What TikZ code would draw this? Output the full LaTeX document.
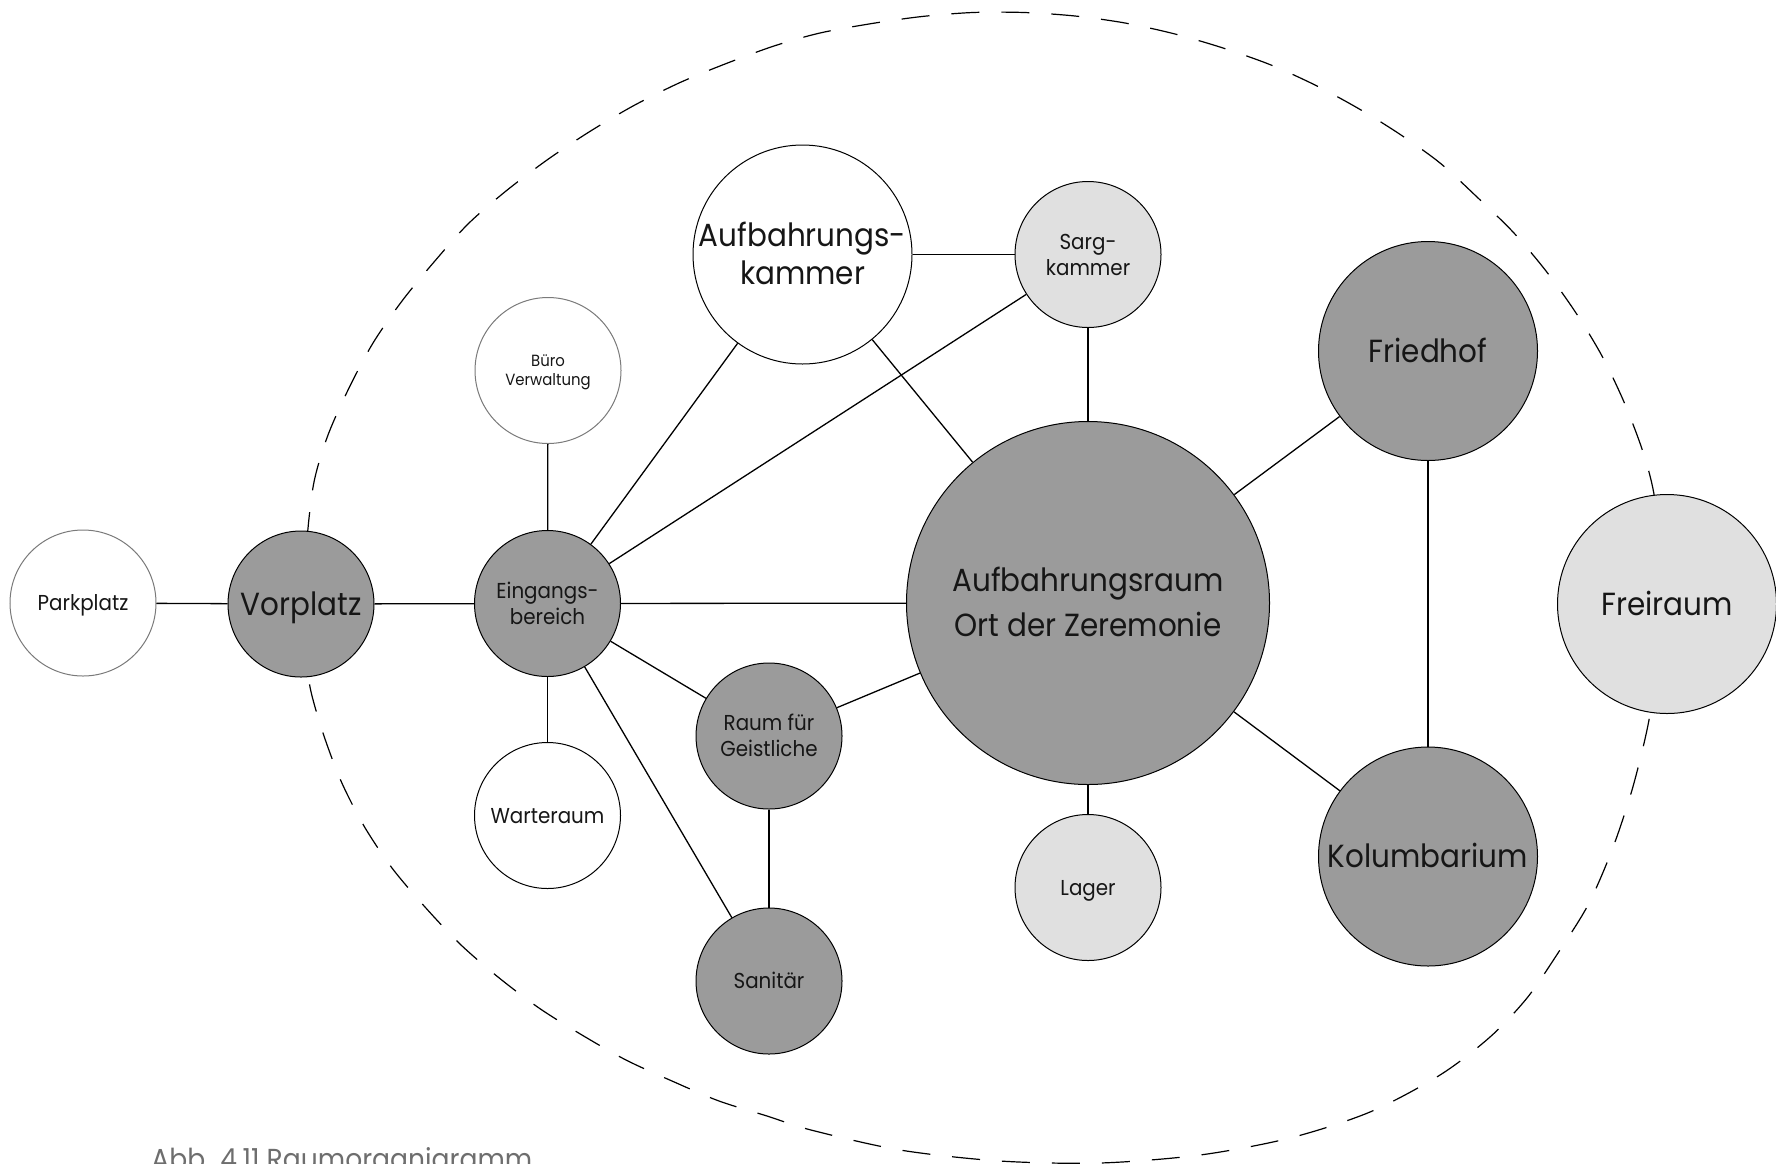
\documentclass[tikz,border=0pt]{standalone}
\usepackage{fontspec}
\setmainfont{Poppins}[FakeStretch=0.92]
\newcommand\dline[2]{\begin{tabular}[t]{@{}c@{}}#1\\#2\end{tabular}}
\definecolor{dark}{HTML}{9B9B9B}
\definecolor{light}{HTML}{E0E0E0}
\definecolor{rim}{HTML}{7A7A7A}
\definecolor{ink}{HTML}{161616}
\definecolor{capgray}{HTML}{6E6E6E}
\begin{document}
\begin{tikzpicture}[x=0.5pt,y=-0.5pt,
  room/.style={circle,draw=black,line width=0.5pt,inner sep=0pt,text=ink},
  small/.style={room,minimum size=73pt,font=\fontsize{10.8}{13}\selectfont,text height=7.6pt,text depth=0pt},
  smalltwo/.style={small,text depth=13pt},
  big/.style={room,minimum size=109.5pt,font=\fontsize{16}{19}\selectfont,text height=11.2pt,text depth=0pt},
  dk/.style={fill=dark},
  lt/.style={fill=light},
  wh/.style={fill=white},
  link/.style={line width=0.65pt,draw=black},
  border/.style={line width=0.6pt,draw=black,dash pattern=on 14pt off 11pt},
]
\useasboundingbox (0,0) rectangle (1776,1163);
\clip (0,0) rectangle (1776,1163);

% dashed boundary
\draw[border] plot[smooth cycle,tension=0.5] coordinates {
 (305,600) (307,540) (314,482) (328,435) (349,388) (373,343) (402,301) (434,262)
 (468,224) (506,191) (547,160) (589,132) (633,106) (679,83) (725,64) (774,46)
 (820,33) (872,23.5) (922,16.5) (973,12.5) (1024,12.5) (1075,16) (1125,23) (1175,34)
 (1223,48) (1271,65) (1317,86) (1361,110) (1401,135) (1440,163) (1477,197) (1513,232)
 (1546,271) (1576,313) (1602,356) (1624,402) (1642,449) (1653,489) (1661,545) (1663,600)
 (1658,660) (1648,725) (1632,790) (1612,850) (1588,905) (1558,953) (1527,998) (1490,1037)
 (1440,1075) (1370,1112) (1290,1138) (1200,1155) (1100,1163) (1000,1161) (900,1150) (811,1130)
 (767,1116) (719,1101) (672,1081) (626,1060) (582,1035) (539,1008) (498,977) (460,944)
 (425,907) (392,868) (364,826) (341,781) (323,733) (310,687) (306,645)};

% rooms
\node[small,wh,draw=rim] (park) at (83,603) {Parkplatz};
\node[big,dk,minimum size=73pt] (vor) at (301,604) {Vorplatz};
\node[smalltwo,dk] (ein) at (547.5,603.5) {\dline{Eingangs-}{bereich}};
\node[room,wh,draw=rim,minimum size=73pt,font=\fontsize{8.1}{9.35}\selectfont,text height=5.6pt,text depth=9.35pt] (buero) at (548,370.5) {\dline{Büro}{Verwaltung}};
\node[small,wh] (warte) at (547.5,815.5) {Warteraum};
\node[smalltwo,dk] (geist) at (769,736) {\dline{Raum für}{Geistliche}};
\node[small,dk] (sani) at (769,981) {Sanitär};
\node[big,wh,text depth=19pt] (akam) at (802.5,254.5) {\dline{Aufbahrungs-}{kammer}};
\node[smalltwo,lt] (sarg) at (1088,254.5) {\dline{Sarg-}{kammer}};
\node[big,dk,minimum size=181.5pt,font=\fontsize{16}{22.5}\selectfont,text depth=22.5pt] (araum) at (1088,603) {\dline{Aufbahrungsraum}{Ort der Zeremonie}};
\node[small,lt] (lager) at (1088,887.5) {Lager};
\node[big,dk] (fried) at (1428,351) {Friedhof};
\node[big,dk] (kolu) at (1428,856.5) {Kolumbarium};
\node[big,lt] (frei) at (1667,604) {Freiraum};

% connections
\draw[link] (park) -- (vor);
\draw[link] (vor) -- (ein);
\draw[link] (ein) -- (buero);
\draw[link] (ein) -- (warte);
\draw[link] (ein) -- (akam);
\draw[link] (ein) -- (sarg);
\draw[link] (ein) -- (araum);
\draw[link] (ein) -- (geist);
\draw[link] (ein) -- (sani);
\draw[link] (geist) -- (sani);
\draw[link] (geist) -- (araum);
\draw[link] (akam) -- (sarg);
\draw[link] (akam) -- (araum);
\draw[link] (sarg) -- (araum);
\draw[link] (araum) -- (lager);
\draw[link] (araum) -- (fried);
\draw[link] (araum) -- (kolu);
\draw[link] (fried) -- (kolu);

% caption
\node[anchor=base west,inner sep=0pt,text=capgray,font=\fontsize{14.45}{18}\selectfont] (cap) at (151,1169) {Abb. 4.11 Raumorganigramm};
\end{tikzpicture}
\end{document}
